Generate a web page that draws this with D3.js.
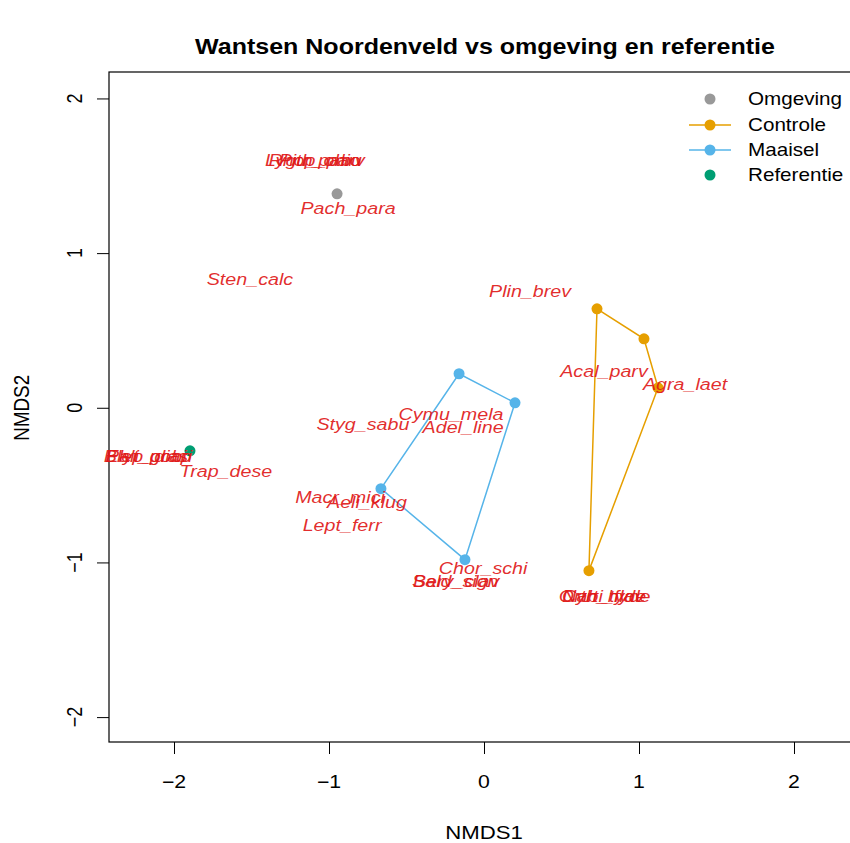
<!DOCTYPE html>
<html><head><meta charset="utf-8">
<script src="https://cdn.jsdelivr.net/npm/d3@7"></script>
<style>body{margin:0;background:#fff}svg{display:block}text{font-family:"Liberation Sans",Arial,sans-serif}</style>
</head><body><svg id="c" width="850" height="843"></svg>
<script>
const title = "Wantsen Noordenveld vs omgeving en referentie";
const xTicks = [-2, -1, 0, 1, 2];
const yTicks = [-2, -1, 0, 1, 2];

const groups = ["Omgeving", "Controle", "Maaisel", "Referentie"];
const groupColors = ["#999999", "#E69F00", "#56B4E9", "#009E73"];
const groupHasHull = [false, true, true, false];

// site scores
const siteGroup = ["Omgeving", "Referentie", "Controle", "Controle", "Controle", "Controle", "Maaisel", "Maaisel", "Maaisel", "Maaisel"];
const siteX = [-0.948, -1.897, 0.729, 1.032, 1.123, 0.677, -0.161, 0.200, -0.123, -0.665];
const siteY = [1.383, -0.278, 0.640, 0.446, 0.129, -1.053, 0.220, 0.032, -0.982, -0.523];

// species scores
const speciesNames = ["Lygu_pabu", "Rhop_parv", "Pith_ohio", "Pach_para", "Sten_calc", "Plin_brev", "Acal_parv", "Agra_laet",
  "Cymu_mela", "Adel_line", "Styg_sabu", "Elyt_gobi", "Blep_diap", "Pali_prasi", "Trap_dese", "Macr_mici", "Aeli_klug",
  "Lept_ferr", "Chor_schi", "Sald_sign", "Bery_clav", "Nabi_flav", "Orth_hyde", "Cyrt_tyde"];
const speciesX = [-1.10, -1.08, -1.06, -0.877, -1.51, 0.297, 0.774, 1.297,
  -0.213, -0.135, -0.781, -2.18, -2.17, -2.16, -1.665, -0.929, -0.755,
  -0.916, -0.006, -0.185, -0.180, 0.770, 0.778, 0.775];
const speciesY = [1.60, 1.60, 1.60, 1.292, 0.834, 0.756, 0.239, 0.155,
  -0.039, -0.123, -0.103, -0.31, -0.31, -0.31, -0.407, -0.575, -0.607,
  -0.756, -1.034, -1.124, -1.124, -1.221, -1.221, -1.221];

const SX = 1.18; // horizontal stretch of the reference rendering
const svg = d3.select("#c");
const L = 109, T = 72, B = 742;
const x = d3.scaleLinear().domain([-2.4194, 2.5]).range([L, L + (2.5 + 2.4194) * 155]);
const y = d3.scaleLinear().domain([-2.161, 2.171]).range([B, T]);
const R = x.range()[1];

function stext(parent, tx, ty, str, size, opts = {}) {
  const t = parent.append("text")
    .attr("transform", `translate(${tx},${ty}) scale(${SX},1)` + (opts.rot ? ` rotate(${opts.rot})` : ""))
    .attr("text-anchor", opts.anchor || "middle").attr("dy", "0.35em")
    .attr("font-size", size).text(str);
  if (opts.weight) t.attr("font-weight", opts.weight);
  if (opts.italic) t.attr("font-style", "italic");
  if (opts.fill) t.attr("fill", opts.fill);
  return t;
}
const fmt = d => d < 0 ? "\u2212" + Math.abs(d) : String(d);

stext(svg, 485, 47, title, 21.2, { weight: "bold" });

// axes (ticks via d3 axis, labels stretched)
const xa = svg.append("g").attr("transform", `translate(0,${B})`)
  .call(d3.axisBottom(x).tickValues(xTicks).tickSize(12).tickFormat(""));
xa.select(".domain").remove();
xa.selectAll("line").attr("stroke", "#000");
xTicks.forEach(v => stext(svg, x(v), 782, fmt(v), 18));

const ya = svg.append("g").attr("transform", `translate(${L},0)`)
  .call(d3.axisLeft(y).tickValues(yTicks).tickSize(12).tickFormat(""));
ya.select(".domain").remove();
ya.selectAll("line").attr("stroke", "#000");
yTicks.forEach(v => stext(svg, 75, y(v), fmt(v), 18, { rot: -90 }));

svg.append("rect").attr("x", L).attr("y", T).attr("width", R - L).attr("height", B - T)
  .attr("fill", "none").attr("stroke", "#000").attr("stroke-width", 1.2);

stext(svg, 484, 832, "NMDS1", 18.8);
stext(svg, 21, y(0), "NMDS2", 18.8, { rot: -90 });

const plot = svg.append("g");

// hulls
groups.forEach((g, gi) => {
  if (!groupHasHull[gi]) return;
  const pts = siteX.map((v, i) => [v, siteY[i], siteGroup[i]]).filter(p => p[2] === g).map(p => [x(p[0]), y(p[1])]);
  const hull = d3.polygonHull(pts);
  plot.append("path").attr("d", "M" + hull.join("L") + "Z").attr("fill", "none")
    .attr("stroke", groupColors[gi]).attr("stroke-width", 1.5);
});

// sites
siteX.forEach((v, i) => {
  plot.append("circle").attr("cx", x(v)).attr("cy", y(siteY[i])).attr("r", 5.5)
    .attr("fill", groupColors[groups.indexOf(siteGroup[i])]);
});

// species labels
speciesNames.forEach((n, i) => {
  stext(plot, x(speciesX[i]), y(speciesY[i]), n, 16.7, { italic: true, fill: "#e01818" }).attr("fill-opacity", 0.92);
});

// legend
const legY = [99, 125, 150, 175];
groups.forEach((g, i) => {
  const lg = svg.append("g");
  if (groupHasHull[i]) lg.append("line").attr("x1", 689).attr("x2", 731).attr("y1", legY[i]).attr("y2", legY[i])
    .attr("stroke", groupColors[i]).attr("stroke-width", 1.5);
  lg.append("circle").attr("cx", 710).attr("cy", legY[i]).attr("r", 5.5).attr("fill", groupColors[i]);
  stext(lg, 748, legY[i], g, 17.5, { anchor: "start" });
});
</script></body></html>
